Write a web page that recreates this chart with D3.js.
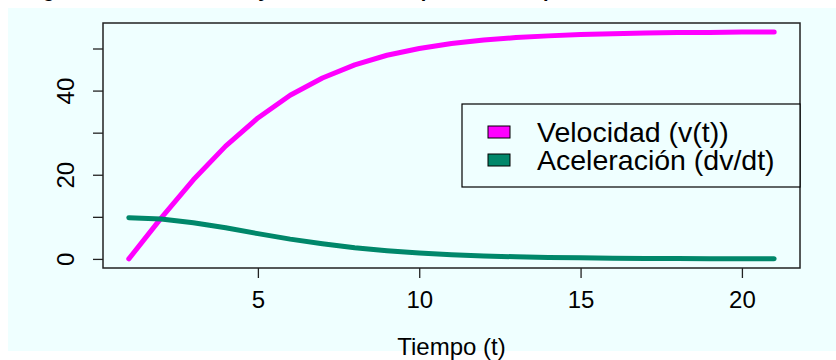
<!DOCTYPE html>
<html lang="es">
<head>
  <meta charset="UTF-8">
  <title>Velocidad y aceleración</title>
  <style>
    body { margin: 0; background: #fff; }
    text { font-family: "Liberation Sans", Arial, sans-serif; }
  </style>
</head>
<body>
  <div id="svg"></div>
</body>
<script src="https://cdn.jsdelivr.net/npm/d3@7"></script>
<script type="text/javascript">
  // datos
  const tiempo = [1, 2, 3, 4, 5, 6, 7, 8, 9, 10, 11, 12, 13, 14, 15, 16, 17, 18, 19, 20, 21]
  const velocidad = [0, 9.7, 18.8, 26.8, 33.5, 38.9, 43.0, 46.1, 48.4, 50.0, 51.2, 52.0, 52.6, 53.0, 53.3, 53.5, 53.7, 53.8, 53.8, 53.9, 53.9]
  const aceleracion = [9.8, 9.5, 8.6, 7.4, 6.0, 4.7, 3.6, 2.65, 1.95, 1.4, 1.0, 0.7, 0.5, 0.35, 0.25, 0.17, 0.12, 0.08, 0.06, 0.04, 0.03]
  const xTicks = [5, 10, 15, 20]
  const yTicks = [0, 10, 20, 30, 40, 50]
  const yLabels = [0, 20, 40]
  const leyenda = ["Velocidad (v(t))", "Aceleración (dv/dt)"]
  const colores = ["#ff00ff", "#00876a"]

  const width = 836
  const height = 360
  const margin = {top: 23, right: 36, bottom: 92, left: 103}

  const svg = d3.select("#svg").append("svg").attr("width", width).attr("height", height)

  // fondo
  svg.append("rect").attr("x", 8).attr("y", 8).attr("width", width - 8).attr("height", 343).attr("fill", "#efffff")

  // título (cortado arriba)
  svg.append("text")
    .attr("x", 15).attr("y", -3)
    .attr("font-size", "20px").attr("font-weight", "bold")
    .text("Magnitud de la velocidad y aceleración respecto al tiempo")

  // escalas con la extensión del 4% como en R
  const xScale = d3.scaleLinear().domain([0.2, 21.8]).range([margin.left, width - margin.right])
  const yScale = d3.scaleLinear().domain([-2.16, 56.06]).range([height - margin.bottom, margin.top])

  // ejes
  const xAxis = svg.append("g")
    .attr("transform", `translate(0,${height - margin.bottom})`)
    .call(d3.axisBottom(xScale).tickValues(xTicks).tickSize(10).tickPadding(13))
  xAxis.select(".domain").remove()

  const yAxis = svg.append("g")
    .attr("transform", `translate(${margin.left},0)`)
    .call(d3.axisLeft(yScale).tickValues(yTicks).tickSize(10)
      .tickFormat(d => yLabels.includes(d) ? d : ""))
  yAxis.select(".domain").remove()
  yAxis.selectAll("text")
    .attr("transform", "translate(-29,0) rotate(-90)")
    .attr("x", 0).attr("y", 0).attr("dy", 0)
    .attr("text-anchor", "middle")

  svg.selectAll(".tick line").attr("stroke", "#222").attr("stroke-width", 1.3)
  svg.selectAll(".tick text").attr("font-size", "24px").attr("fill", "#000")
    .attr("font-family", "'Liberation Sans', Arial, sans-serif")

  // caja del gráfico
  svg.append("rect")
    .attr("x", margin.left).attr("y", margin.top)
    .attr("width", width - margin.left - margin.right)
    .attr("height", height - margin.top - margin.bottom)
    .attr("fill", "none").attr("stroke", "#222").attr("stroke-width", 1.5)

  // líneas
  const line = d3.line().x(d => xScale(d[0])).y(d => yScale(d[1]))
  const series = [velocidad, aceleracion]
  series.forEach((s, i) => {
    svg.append("path")
      .datum(tiempo.map((t, j) => [t, s[j]]))
      .attr("d", line)
      .attr("fill", "none")
      .attr("stroke", colores[i])
      .attr("stroke-width", 5)
      .attr("stroke-linecap", "round")
      .attr("stroke-linejoin", "round")
  })

  // leyenda
  const lx = 462, ly = 104, lw = width - margin.right - lx, lh = 83
  svg.append("rect").attr("x", lx).attr("y", ly).attr("width", lw).attr("height", lh)
    .attr("fill", "#efffff").attr("stroke", "#000").attr("stroke-width", 1.2)
  leyenda.forEach((name, i) => {
    svg.append("rect")
      .attr("x", 488).attr("y", 126 + i * 28).attr("width", 22).attr("height", 12)
      .attr("fill", colores[i]).attr("stroke", "#000").attr("stroke-width", 1)
    svg.append("text")
      .attr("x", 537).attr("y", 142 + i * 28)
      .attr("font-size", "28.5px")
      .text(name)
  })

  // título del eje x
  svg.append("text")
    .attr("x", (margin.left + width - margin.right) / 2).attr("y", 355)
    .attr("text-anchor", "middle").attr("font-size", "24px")
    .text("Tiempo (t)")
</script>
</html>
